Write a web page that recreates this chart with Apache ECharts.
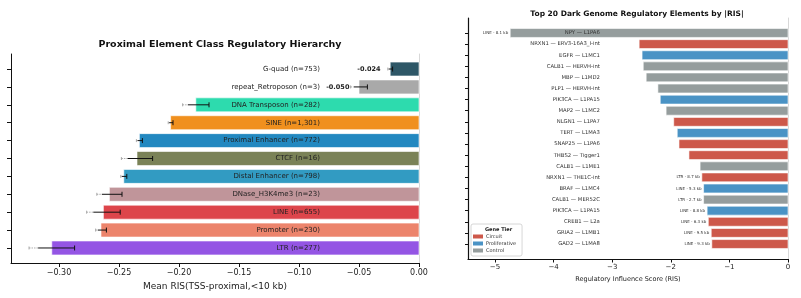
<!DOCTYPE html>
<html>
<head>
<meta charset="utf-8">
<script src="https://cdn.jsdelivr.net/npm/echarts@6.0.0/dist/echarts.min.js"></script>
<style>html,body{margin:0;padding:0;background:#fff}#main{width:801px;height:298px}</style>
</head>
<body>
<div id="main"></div>
<script>
// left panel: proximal element classes
var classNames = ['G-quad', 'repeat_Retroposon', 'DNA Transposon', 'SINE', 'Proximal Enhancer', 'CTCF',
  'Distal Enhancer', 'DNase_H3K4me3', 'LINE', 'Promoter', 'LTR'];
var classCounts = [753, 3, 282, 1301, 772, 16, 798, 23, 655, 230, 277];
var classMeans = [-0.024, -0.050, -0.186, -0.207, -0.233, -0.235, -0.246, -0.258, -0.263, -0.265, -0.306];
var classErrors = [0.002, 0.007, 0.011, 0.002, 0.0025, 0.013, 0.0025, 0.0105, 0.014, 0.0045, 0.019];
var classColors = ['#2e5767', '#a9a9a9', '#2ddbae', '#f0901e', '#2288c0', '#7a8257',
  '#329bc2', '#c0959a', '#dd454b', '#ec846c', '#9455e4'];
var leftTicks = [-0.30, -0.25, -0.20, -0.15, -0.10, -0.05, 0];

// right panel: top 20 elements
var elemGenes = ['NPY', 'NRXN1', 'EGFR', 'CALB1', 'MBP', 'PLP1', 'PIK3CA', 'MAP2', 'NLGN1', 'TERT',
  'SNAP25', 'THBS2', 'CALB1', 'NRXN1', 'BRAF', 'CALB1', 'PIK3CA', 'CREB1', 'GRIA2', 'GAD2'];
var elemTEs = ['L1PA6', 'ERV3-16A3_I-int', 'L1MC1', 'HERVH-int', 'L1MD2', 'HERVH-int', 'L1PA15', 'L1MC2', 'L1PA7', 'L1MA3',
  'L1PA6', 'Tigger1', 'L1ME1', 'THE1C-int', 'L1MC4', 'MER52C', 'L1PA15', 'L2a', 'L1MB1', 'L1MA8'];
var elemRIS = [-4.74, -2.54, -2.49, -2.47, -2.42, -2.22, -2.18, -2.08, -1.95, -1.89,
  -1.86, -1.69, -1.50, -1.47, -1.44, -1.44, -1.38, -1.36, -1.31, -1.30];
var elemTier = ['Control', 'Circuit', 'Proliferative', 'Control', 'Control', 'Control', 'Proliferative', 'Control', 'Circuit', 'Proliferative',
  'Circuit', 'Circuit', 'Control', 'Circuit', 'Proliferative', 'Control', 'Proliferative', 'Circuit', 'Circuit', 'Circuit'];
var elemNotes = ['LINE - 8.1 kb', '', '', '', '', '', '', '', '', '',
  '', '', '', 'LTR - 8.7 kb', 'LINE - 5.3 kb', 'LTR - 2.7 kb', 'LINE - 8.8 kb', 'LINE - 6.3 kb', 'LINE - 9.5 kb', 'LINE - 9.3 kb'];
var tiers = ['Circuit', 'Proliferative', 'Control'];
var tierColors = {Circuit: '#cd584a', Proliferative: '#4a93c5', Control: '#959d9d'};
var rightTicks = [-5, -4, -3, -2, -1, 0];

var FONT = '"DejaVu Sans"';

function fmtNum(v, d) {
  var s = Math.abs(v).toFixed(d);
  return (v < 0 ? '\u2212' : '') + s;
}
function range(n) { var a = []; for (var i = 0; i < n; i++) a.push(i); return a; }

function barRender(frac) {
  return function (params, api) {
    var v = api.value(0), i = api.value(1);
    var p0 = api.coord([0, i]), p1 = api.coord([v, i]);
    var h = api.size([0, 1])[1] * frac;
    return {
      type: 'rect',
      shape: {x: p1[0], y: p1[1] - h / 2, width: p0[0] - p1[0], height: h},
      style: api.style({stroke: '#ffffff', lineWidth: 0.6})
    };
  };
}

var chart = echarts.init(document.getElementById('main'));

var classBarData = classMeans.map(function (v, i) {
  return {value: [v, i], itemStyle: {color: classColors[i]}};
});

var tierSeries = tiers.map(function (t) {
  return {
    name: t,
    type: 'custom',
    xAxisIndex: 1, yAxisIndex: 2,
    itemStyle: {color: tierColors[t]},
    renderItem: barRender(0.8),
    data: elemRIS.map(function (v, i) { return elemTier[i] === t ? [v, i] : null; })
      .filter(function (d) { return d; })
  };
});

var option = {
  animation: false,
  backgroundColor: '#fff',
  textStyle: {fontFamily: FONT},
  title: [
    {text: 'Proximal Element Class Regulatory Hierarchy', left: 215, top: 35, textAlign: 'center',
      textStyle: {fontSize: 9.5, fontWeight: 'bold', color: '#111', fontFamily: FONT}},
    {text: 'Top 20 Dark Genome Regulatory Elements by |RIS|', left: 632, top: 5, textAlign: 'center',
      textStyle: {fontSize: 7.5, fontWeight: 'bold', color: '#111', fontFamily: FONT}}
  ],
  legend: {
    data: tiers,
    orient: 'vertical',
    left: 471, top: 224,
    padding: [10, 6, 3, 2],
    icon: 'rect',
    itemWidth: 10, itemHeight: 4, itemGap: 2,
    borderColor: '#cccccc', borderWidth: 0.8, borderRadius: 2,
    backgroundColor: '#fff',
    textStyle: {fontSize: 5, color: '#333', fontFamily: FONT, padding: [0, 0, 0, -2]}
  },
  graphic: [
    {type: 'text', left: 485, top: 227, z: 100,
      style: {text: 'Gene Tier', font: 'bold 5px ' + FONT, fill: '#222'}}
  ],
  grid: [
    {left: 11, top: 54, width: 408, height: 209},
    {left: 468, top: 18, width: 320, height: 241}
  ],
  xAxis: [
    {
      type: 'value', gridIndex: 0, min: -0.34, max: 0,
      name: 'Mean RIS(TSS-proximal,<10 kb)', nameLocation: 'middle', nameGap: 19,
      nameTextStyle: {fontSize: 9, color: '#222', fontFamily: FONT},
      axisLine: {onZero: false, lineStyle: {color: '#111', width: 1}},
      axisTick: {show: true, length: 4, customValues: leftTicks, lineStyle: {color: '#111'}},
      axisLabel: {customValues: leftTicks, fontSize: 8, color: '#222', margin: 6,
        formatter: function (v) { return fmtNum(v, 2); }},
      splitLine: {show: false}
    },
    {
      type: 'value', gridIndex: 1, min: -5.46, max: 0,
      name: 'Regulatory Influence Score (RIS)', nameLocation: 'middle', nameGap: 15,
      nameTextStyle: {fontSize: 6.5, color: '#222', fontFamily: FONT},
      axisLine: {onZero: false, lineStyle: {color: '#111', width: 1.2}},
      axisTick: {show: true, length: 3.5, customValues: rightTicks, lineStyle: {color: '#111'}},
      axisLabel: {customValues: rightTicks, fontSize: 7, color: '#222', margin: 5,
        formatter: function (v) { return fmtNum(v, 0); }},
      splitLine: {show: false}
    }
  ],
  yAxis: [
    {
      type: 'value', gridIndex: 0, min: -0.84, max: 10.84, inverse: true,
      axisLine: {show: true, onZero: false, lineStyle: {color: '#111', width: 1}},
      axisTick: {show: true, length: 4, customValues: range(11), lineStyle: {color: '#111'}},
      axisLabel: {show: false}, splitLine: {show: false}
    },
    {
      type: 'value', gridIndex: 0, min: -0.84, max: 10.84, inverse: true, position: 'right',
      axisLine: {show: true, onZero: false, lineStyle: {color: '#d8d8d8', width: 1}},
      axisTick: {show: false}, axisLabel: {show: false}, splitLine: {show: false}
    },
    {
      type: 'value', gridIndex: 1, min: -1.35, max: 20.35, inverse: true,
      axisLine: {show: true, onZero: false, lineStyle: {color: '#111', width: 1.2}},
      axisTick: {show: true, length: 3, customValues: range(20), lineStyle: {color: '#111'}},
      axisLabel: {show: false}, splitLine: {show: false}
    },
    {
      type: 'value', gridIndex: 1, min: -1.35, max: 20.35, inverse: true, position: 'right',
      axisLine: {show: true, onZero: false, lineStyle: {color: '#d8d8d8', width: 1}},
      axisTick: {show: false}, axisLabel: {show: false}, splitLine: {show: false}
    }
  ],
  series: [
    {
      name: 'classBars', type: 'custom', xAxisIndex: 0, yAxisIndex: 0,
      renderItem: barRender(0.78),
      data: classBarData
    },
    {
      name: 'classErr', type: 'custom', xAxisIndex: 0, yAxisIndex: 0, z: 5,
      renderItem: function (params, api) {
        var v = api.value(0), i = api.value(1), e = api.value(2);
        var a = api.coord([v - e, i]), m = api.coord([v - 0.6 * e, i]), b = api.coord([v + e, i]);
        var c = 2.5;
        var st = {stroke: '#111', lineWidth: 1};
        var faint = {stroke: '#999', lineWidth: 0.8, lineDash: [1.5, 1]};
        return {type: 'group', children: [
          {type: 'line', shape: {x1: a[0], y1: a[1], x2: m[0], y2: m[1]}, style: faint},
          {type: 'line', shape: {x1: m[0], y1: m[1], x2: b[0], y2: b[1]}, style: st},
          {type: 'line', shape: {x1: a[0], y1: a[1] - c * 0.6, x2: a[0], y2: a[1] + c * 0.6}, style: {stroke: '#999', lineWidth: 0.8}},
          {type: 'line', shape: {x1: b[0], y1: b[1] - c, x2: b[0], y2: b[1] + c}, style: st}
        ]};
      },
      data: classMeans.map(function (v, i) { return [v, i, classErrors[i]]; })
    },
    {
      name: 'classLabels', type: 'custom', xAxisIndex: 0, yAxisIndex: 0, z: 6,
      renderItem: function (params, api) {
        var v = api.value(0), i = api.value(1);
        var p = api.coord([-0.0825, i]);
        var kids = [{type: 'text', x: p[0], y: p[1], style: {
          text: classNames[i] + ' (n=' + classCounts[i].toLocaleString('en-US') + ')',
          font: '7px ' + FONT, fill: '#222', align: 'right', verticalAlign: 'middle'}}];
        if (v > -0.0825) {
          var q = api.coord([v - 0.008, i]);
          kids.push({type: 'text', x: q[0], y: q[1], style: {
            text: v.toFixed(3), font: 'bold 6.5px ' + FONT, fill: '#222',
            align: 'right', verticalAlign: 'middle'}});
        }
        return {type: 'group', children: kids};
      },
      data: classMeans.map(function (v, i) { return [v, i]; })
    }
  ].concat(tierSeries).concat([
    {
      name: 'elemNames', type: 'custom', xAxisIndex: 1, yAxisIndex: 2, z: 6,
      renderItem: function (params, api) {
        var i = api.value(1);
        var p = api.coord([-3.21, i]);
        return {type: 'text', x: p[0], y: p[1], style: {
          text: elemGenes[i] + ' \u2014 ' + elemTEs[i], font: '5.3px ' + FONT, fill: '#333',
          align: 'right', verticalAlign: 'middle'}};
      },
      data: elemRIS.map(function (v, i) { return [v, i]; })
    },
    {
      name: 'elemNotes', type: 'custom', xAxisIndex: 1, yAxisIndex: 2, z: 6,
      renderItem: function (params, api) {
        var v = api.value(0), i = api.value(1);
        var p = api.coord([v, i]);
        return {type: 'text', x: p[0] - 2, y: p[1], style: {
          text: elemNotes[i], font: '4px ' + FONT, fill: '#333',
          align: 'right', verticalAlign: 'middle'}};
      },
      data: elemRIS.map(function (v, i) { return [v, i]; })
    }
  ])
};

chart.setOption(option);
</script>
</body>
</html>
